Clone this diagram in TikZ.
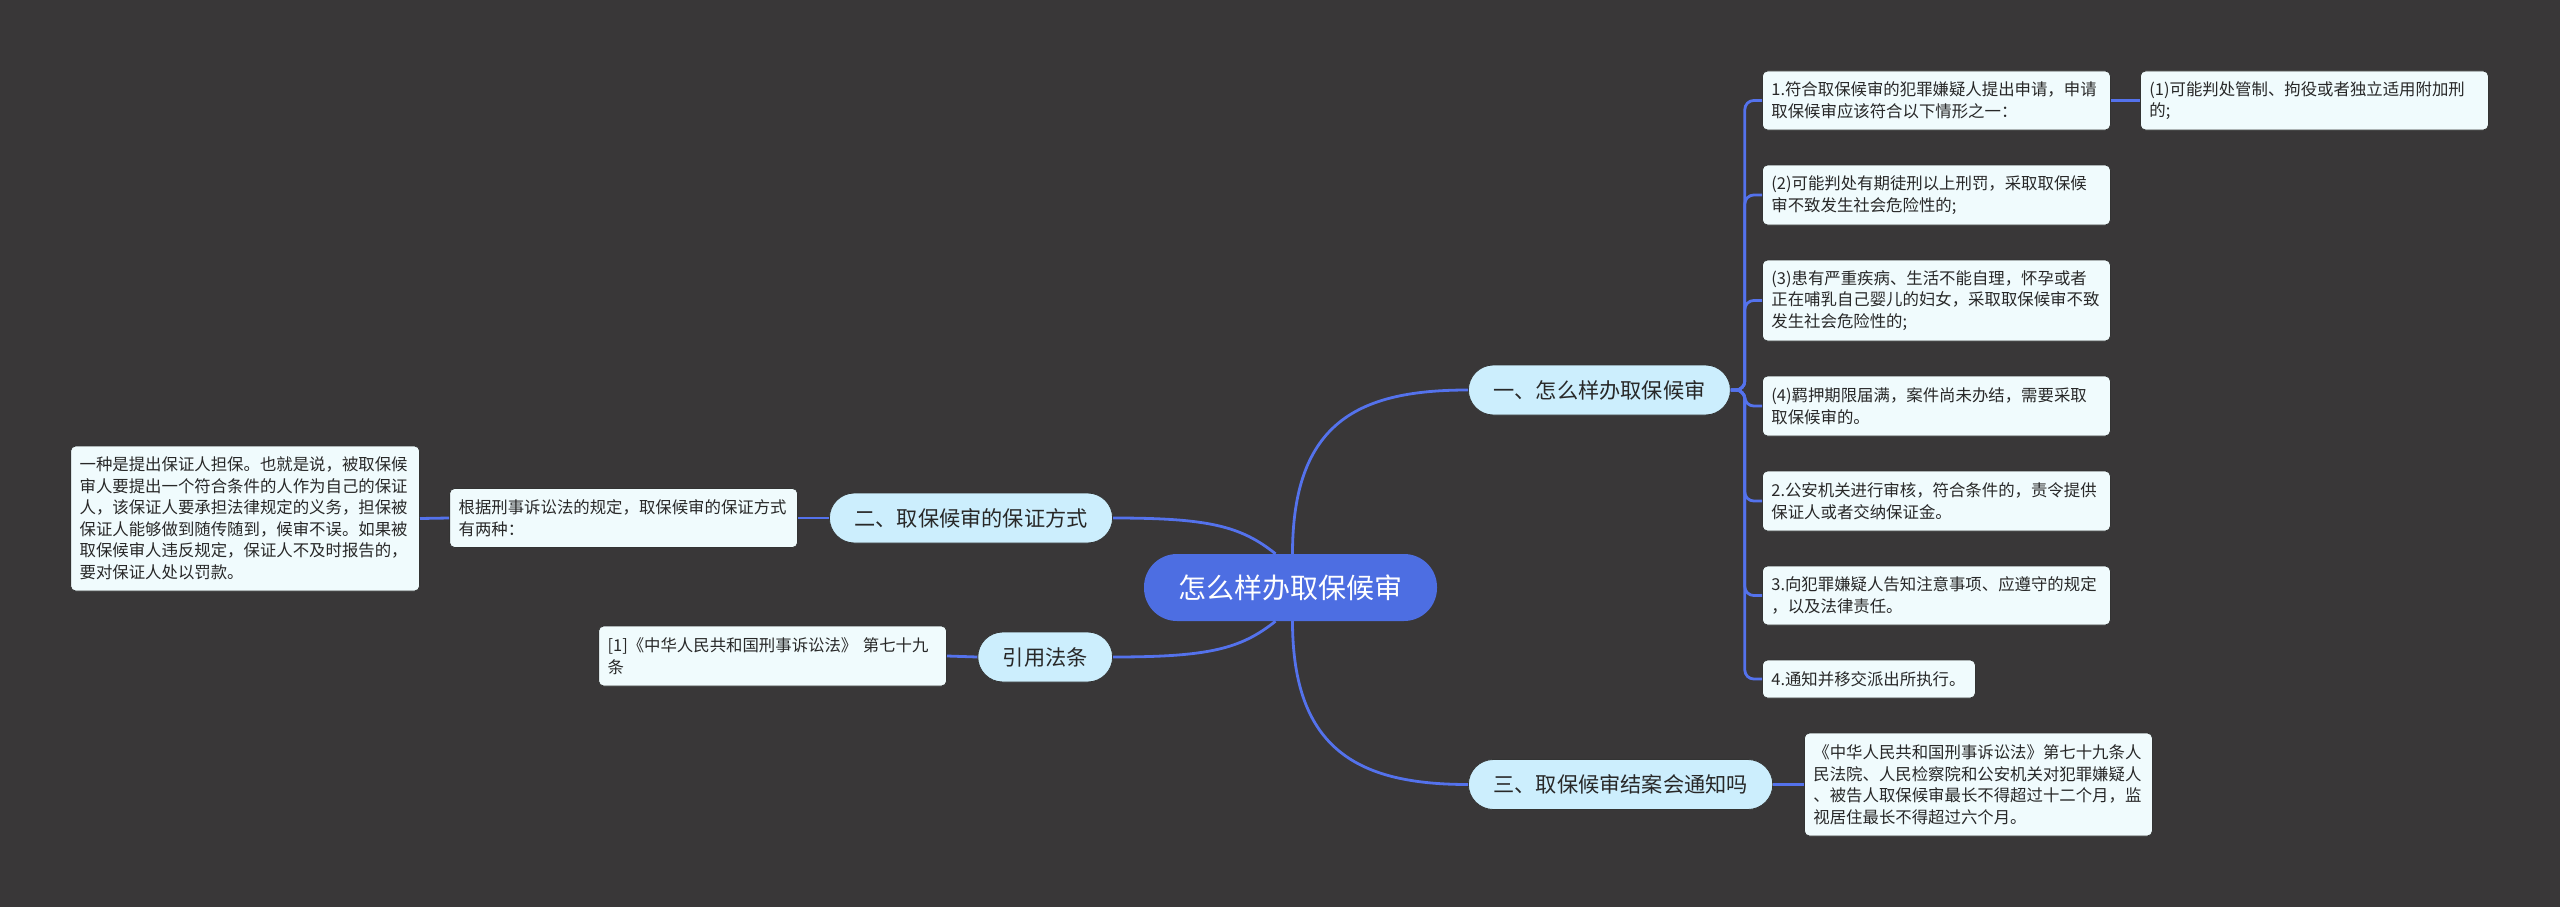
\documentclass[tikz,border=0pt]{standalone}
\usepackage{fontspec}
\setmainfont{Noto Sans CJK SC}
\usepackage{tikz}

\definecolor{bgc}{RGB}{57,55,56}
\definecolor{rootblue}{RGB}{77,110,226}
\definecolor{linkblue}{RGB}{84,114,236}
\definecolor{branchfill}{RGB}{204,238,253}
\definecolor{leaffill}{RGB}{240,251,253}
\definecolor{textc}{RGB}{40,40,40}

\begin{document}
\begin{tikzpicture}[x=1pt,y=-1pt,
    root/.style={fill=rootblue,text=white,rounded corners=33pt,minimum width=293pt,
      minimum height=67pt,inner sep=0pt,font=\fontsize{28}{34}\selectfont},
    branch/.style={fill=branchfill,draw=black!80,line width=0.8pt,rounded corners=25pt,
      minimum height=50pt,inner xsep=25pt,inner ysep=0pt,text=textc,
      font=\fontsize{21.2}{26}\selectfont},
    leaf/.style={fill=leaffill,draw=black!80,line width=0.8pt,rounded corners=5pt,
      text width=330pt,inner xsep=9pt,inner ysep=0pt,align=left,text=textc,
      font=\fontsize{16.4}{21.5}\selectfont},
    link/.style={draw=linkblue,line width=2.8pt}]
  \fill[bgc] (0,0) rectangle (2560,907);
  \useasboundingbox (0,0) rectangle (2560,907);

  % centre and main branches
  \node[root] (root) at (1290.5,587.5) {怎么样办取保候审};
  \node[branch,anchor=west] (b1) at (1468,390) {一、怎么样办取保候审};
  \node[branch,anchor=west] (b3) at (1468,784.5) {三、取保候审结案会通知吗};
  \node[branch,anchor=east] (b2) at (1113,518) {二、取保候审的保证方式};
  \node[branch,anchor=east] (b4) at (1113,657) {引用法条};

  % right side leaves
  \node[leaf,anchor=west,minimum height=59pt] (c1) at (1762,100.5)
    {1.符合取保候审的犯罪嫌疑人提出申请，申请\\取保候审应该符合以下情形之一：};
  \node[leaf,anchor=west,minimum height=59pt] (c11) at (2140,100.5)
    {(1)可能判处管制、拘役或者独立适用附加刑\\的;};
  \node[leaf,anchor=west,minimum height=60pt] (c2) at (1762,195)
    {(2)可能判处有期徒刑以上刑罚，采取取保候\\审不致发生社会危险性的;};
  \node[leaf,anchor=west,minimum height=81pt] (c3) at (1762,300.5)
    {(3)患有严重疾病、生活不能自理，怀孕或者\\正在哺乳自己婴儿的妇女，采取取保候审不致\\发生社会危险性的;};
  \node[leaf,anchor=west,minimum height=60pt] (c4) at (1762,406)
    {(4)羁押期限届满，案件尚未办结，需要采取\\取保候审的。};
  \node[leaf,anchor=west,minimum height=60pt] (c5) at (1762,501)
    {2.公安机关进行审核，符合条件的，责令提供\\保证人或者交纳保证金。};
  \node[leaf,anchor=west,minimum height=59pt] (c6) at (1762,595.5)
    {3.向犯罪嫌疑人告知注意事项、应遵守的规定\\，以及法律责任。};
  \node[leaf,anchor=west,minimum height=38pt,text width=195pt] (c7) at (1762,679)
    {4.通知并移交派出所执行。};
  \node[leaf,anchor=west,minimum height=103pt] (d1) at (1804,784.5)
    {《中华人民共和国刑事诉讼法》第七十九条人\\民法院、人民检察院和公安机关对犯罪嫌疑人\\、被告人取保候审最长不得超过十二个月，监\\视居住最长不得超过六个月。};

  % left side leaves
  \node[leaf,anchor=east,minimum height=59pt] (e1) at (798,518)
    {根据刑事诉讼法的规定，取保候审的保证方式\\有两种：};
  \node[leaf,anchor=east,minimum height=145pt,text width=331pt] (e2) at (420,518.5)
    {一种是提出保证人担保。也就是说，被取保候\\审人要提出一个符合条件的人作为自己的保证\\人，该保证人要承担法律规定的义务，担保被\\保证人能够做到随传随到，候审不误。如果被\\取保候审人违反规定，保证人不及时报告的，\\要对保证人处以罚款。};
  \node[leaf,anchor=east,minimum height=60pt] (f1) at (947,656)
    {[1]《中华人民共和国刑事诉讼法》 第七十九\\条};

  % links from the centre
  \draw[link] ([xshift=2pt]root.north) .. controls +(0,-133) and +(-108,0) .. (b1.west);
  \draw[link] ([xshift=2pt]root.south) .. controls +(0,130) and +(-108,0) .. (b3.west);
  \draw[link] ([xshift=-15pt]root.north) .. controls +(-35,-28) and +(95,0) .. (b2.east);
  \draw[link] ([xshift=-15pt]root.south) .. controls +(-35,28) and +(95,0) .. (b4.east);

  % links to leaves
  \foreach \c in {c1,c2,c3,c4,c5,c6,c7}
    \draw[link,rounded corners=9pt] (b1.east) -- ++(14,0) |- (\c.west);
  \draw[link] (c1.east) -- (c11.west);
  \draw[link] (b3.east) -- (d1.west);
  \draw[link] (b2.west) -- (e1.east);
  \draw[link] (e1.west) -- (e2.east);
  \draw[link] (b4.west) -- (f1.east);
\end{tikzpicture}
\end{document}
